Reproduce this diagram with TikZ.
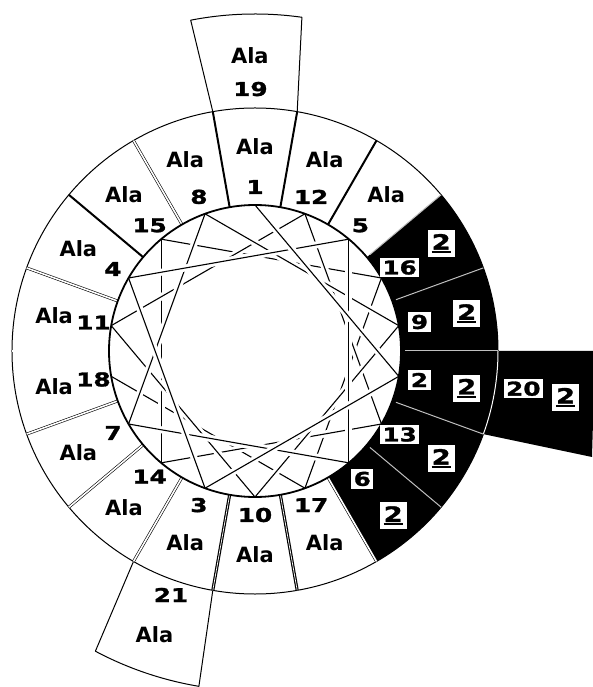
\documentclass[tikz,border=0pt]{standalone}
\usepackage{fontspec}
\setmainfont{DejaVu Sans}
\newfontfamily\numfont[FakeStretch=1.3, BoldFeatures={FakeBold=1.5}]{DejaVu Sans}
\newcommand{\chargemark}{\vtop{\hbox{2}\kern1.5pt\hrule height1.8pt}}

\begin{document}
\begin{tikzpicture}[x=1pt, y=1pt, line join=round,
    numlabel/.style={font=\numfont\bfseries\fontsize{19}{19}\selectfont, inner sep=1pt},
    reslabel/.style={font=\bfseries\fontsize{21}{21}\selectfont, inner sep=1pt},
    numbox/.style={numlabel, fill=white, inner sep=2.5pt},
    chargebox/.style={numlabel, font=\numfont\bfseries\fontsize{21}{21}\selectfont,
      fill=white, inner sep=4pt},
    chord/.style={line width=1.1pt,
      preaction={draw=white, line width=7pt, shorten <=6pt, shorten >=6pt}},
    thickdiv/.style={line width=2pt},
    thickdouble/.style={double, line width=1.2pt, double distance=0.7pt},
    doublediv/.style={double, line width=0.6pt, double distance=1.6pt},
    whitediv/.style={draw=white!75!black, line width=1pt}]

\useasboundingbox (-255,-336) rectangle (337,351);

% charged face
\fill (-60:146) arc[start angle=-60, end angle=40, radius=146]
  -- (40:243) arc[start angle=40, end angle=0, radius=243]
  -- (340,0) -- (337,-106) -- (-20:243)
  arc[start angle=-20, end angle=-60, radius=243] -- cycle;

% outer ring and the extra turn
\draw[line width=1pt] (0,0) circle[radius=243];
\draw[white, line width=1pt] (0:243) arc[start angle=0, end angle=-20, radius=243];
\draw[line width=1pt] (100:243) -- (101:337) arc[start angle=101, end angle=82, radius=337] -- (80:243);
\draw[line width=1pt] (-120:243) -- (-118:340) arc[start angle=-118, end angle=-99.5, radius=340] -- (-100:243);

% sector walls
\foreach \a in {60,80,100,140}
  \draw[thickdiv] (\a:146) -- (\a:243);
\foreach \a in {120,160,180,200,220,240,300}
  \draw[doublediv] (\a:146) -- (\a:243);
\foreach \a in {260,280}
  \draw[thickdouble] (\a:146) -- (\a:243);
\foreach \a in {40,20,0,-20,-40}
  \draw[whitediv] (\a:150) -- (\a:243);

% wheel
\foreach \n in {1,...,18}
  \coordinate (p\n) at ({90-(\n-1)*100}:146);
\foreach \n [evaluate=\n as \m using int(\n+1)] in {17,16,...,1}
  \draw[chord] (p\n) -- (p\m);
\draw[line width=1.8pt] (0,0) circle[radius=146];

% residues
\foreach \n in {1,3,4,5,7,8,10,11,12,14,15,17,18} {
  \node[numlabel] (num\n) at ({90-(\n-1)*100}:164) {\n};
  \node[reslabel] (res\n) at ({90-(\n-1)*100}:204) {Ala};
}
\foreach \n in {2,6,9,13,16} {
  \node[numbox] (num\n) at ({90-(\n-1)*100}:167) {\n};
  \node[chargebox] (res\n) at ({90-(\n-1)*100}:215) {\chargemark};
}
\node[numlabel] (num19) at (91:262) {19};
\node[reslabel] (res19) at (91:295) {Ala};
\node[numbox] (num20) at (-8:271) {20};
\node[chargebox] (res20) at (-8.5:314) {\chargemark};
\node[numlabel] (num21) at (-109:258) {21};
\node[reslabel] (res21) at (-109.5:301) {Ala};
\end{tikzpicture}
\end{document}
